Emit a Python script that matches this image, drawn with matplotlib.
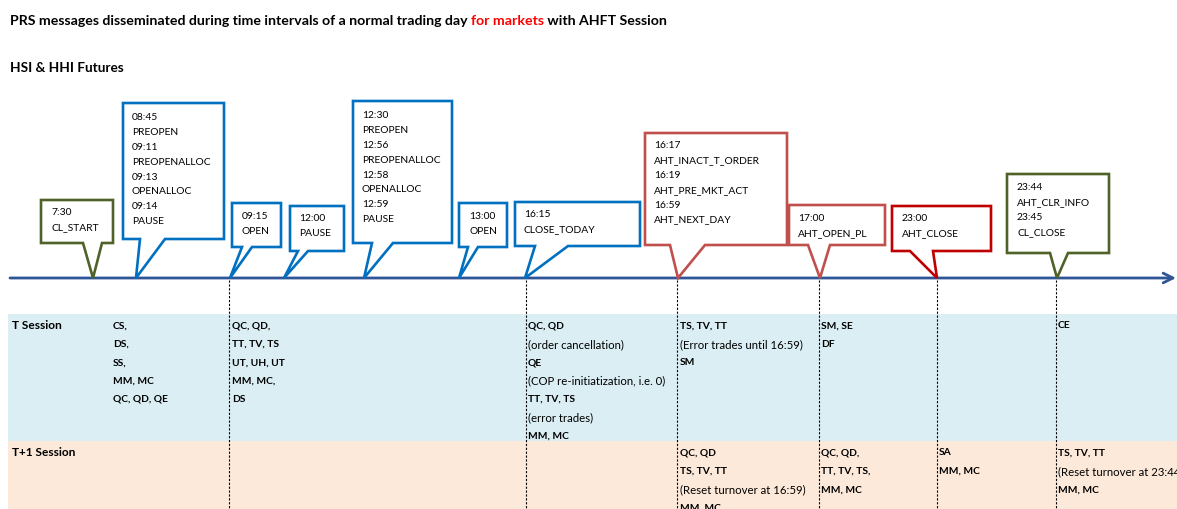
import matplotlib
matplotlib.use("Agg")
import matplotlib.pyplot as plt
from matplotlib.patches import Polygon, Rectangle

plt.rcParams['font.family'] = ['Lato', 'DejaVu Sans']

# ---------------- data (texts) ----------------
title_parts = ["PRS messages disseminated during time intervals of a normal trading day ",
               "for markets", " with AHFT Session"]
subtitle = "HSI & HHI Futures"

callout_texts = [
    ["7:30", "CL_START"],
    ["08:45", "PREOPEN", "09:11", "PREOPENALLOC", "09:13", "OPENALLOC", "09:14", "PAUSE"],
    ["09:15", "OPEN"],
    ["12:00", "PAUSE"],
    ["12:30", "PREOPEN", "12:56", "PREOPENALLOC", "12:58", "OPENALLOC", "12:59", "PAUSE"],
    ["13:00", "OPEN"],
    ["16:15", "CLOSE_TODAY"],
    ["16:17", "AHT_INACT_T_ORDER", "16:19", "AHT_PRE_MKT_ACT", "16:59", "AHT_NEXT_DAY"],
    ["17:00", "AHT_OPEN_PL"],
    ["23:00", "AHT_CLOSE"],
    ["23:44", "AHT_CLR_INFO", "23:45", "CL_CLOSE"],
]

row_labels = ["T Session", "T+1 Session"]

# each cell: list of (text, is_bold)
t_session_cols = [
    [("CS,", 1), ("DS,", 1), ("SS,", 1), ("MM, MC", 1), ("QC, QD, QE", 1)],
    [("QC, QD,", 1), ("TT, TV, TS", 1), ("UT, UH, UT", 1), ("MM, MC,", 1), ("DS", 1)],
    [("QC, QD", 1), ("(order cancellation)", 0), ("QE", 1),
     ("(COP re-initiatization, i.e. 0)", 0), ("TT, TV, TS", 1), ("(error trades)", 0), ("MM, MC", 1)],
    [("TS, TV, TT", 1), ("(Error trades until 16:59)", 0), ("SM", 1)],
    [("SM, SE", 1), ("DF", 1)],
    [],
    [("CE", 1)],
]
t1_session_cols = [
    [],
    [],
    [],
    [("QC, QD", 1), ("TS, TV, TT", 1), ("(Reset turnover at 16:59)", 0), ("MM, MC", 1)],
    [("QC, QD,", 1), ("TT, TV, TS,", 1), ("MM, MC", 1)],
    [("SA", 1), ("MM, MC", 1)],
    [("TS, TV, TT", 1), ("(Reset turnover at 23:44", 0), ("MM, MC", 1)],
]

# ---------------- layout (pixel geometry & styles) ----------------
W, H = 1177, 510
BLUE, RED1, RED2, GREEN = "#0070C0", "#C0504D", "#C00000", "#4F6228"
# (left, top, right, bottom, tail_base1, tail_base2, tip_x, tip_y, color)
callout_geom = [
    (41, 201, 113, 244, 83, 102, 93, 279, GREEN),
    (123, 104, 224, 240, 140, 165, 136, 279, BLUE),
    (232, 204, 281, 248, 242, 252, 230, 279, BLUE),
    (290, 207, 344, 252, 298, 308, 284, 279, BLUE),
    (353, 102, 452, 244, 372, 393, 364, 279, BLUE),
    (459, 204, 507, 248, 468, 478, 459, 279, BLUE),
    (515, 203, 640, 247, 535, 568, 525, 279, BLUE),
    (645, 134, 787, 246, 670, 705, 678, 279, RED1),
    (789, 206, 885, 246, 808, 830, 820, 279, RED1),
    (892, 207, 991, 252, 910, 933, 937, 279, RED2),
    (1007, 175, 1109, 254, 1050, 1068, 1057, 279, GREEN),
]
callout_text_x = [51, 132, 242, 299, 362, 469, 524, 654, 798, 902, 1017]
callout_text_y0 = [213, 118, 217, 219, 116, 217, 215, 146, 219, 219, 188]
callout_dy = 14.8

col_x = [113, 232, 528, 680, 821, 939, 1058]
divider_x = [229, 526, 677, 819, 937, 1056]

fig = plt.figure(figsize=(W / 100, H / 100), dpi=100)
ax = fig.add_axes([0, 0, 1, 1])
ax.set_xlim(0, W)
ax.set_ylim(H, 0)
ax.axis('off')

# title (multi-coloured) via chained annotations
fs_title = 10.2
t = ax.text(10, 21, title_parts[0], fontsize=fs_title, fontweight='bold',
            va='center', ha='left', color='black')
prev = t
for part, colr in zip(title_parts[1:], ['#FF0000', 'black']):
    prev = ax.annotate(part, xy=(1, 0), xycoords=prev, va='bottom', ha='left',
                       fontsize=fs_title, fontweight='bold', color=colr)
ax.text(10, 68, subtitle, fontsize=9.8, fontweight='bold', va='center', ha='left')

# table bands
ax.add_patch(Rectangle((8, 315), W - 8, 127, facecolor='#DAEEF3', edgecolor='none', zorder=0))
ax.add_patch(Rectangle((8, 442), W - 8, H - 442, facecolor='#FDE9D9', edgecolor='none', zorder=0))

# dotted dividers
for xd in divider_x:
    ax.plot([xd, xd], [281, H], color='black', lw=0.8, ls=(0, (2, 1.5)), zorder=1)

# timeline arrow
ax.annotate('', xy=(1176, 279), xytext=(10, 279),
            arrowprops=dict(arrowstyle='->,head_length=0.7,head_width=0.35',
                            color='#2F5597', lw=2.0, shrinkA=0, shrinkB=0), zorder=2)

# callouts
fs_call = 7.4
for (L, T, R, B, b1, b2, tx, ty, c), lines, xt, yt in zip(
        callout_geom, callout_texts, callout_text_x, callout_text_y0):
    poly = Polygon([(L, T), (R, T), (R, B), (b2, B), (tx, ty), (b1, B), (L, B)],
                   closed=True, facecolor='white', edgecolor=c, lw=1.9,
                   joinstyle='miter', zorder=3)
    ax.add_patch(poly)
    for i, s in enumerate(lines):
        ax.text(xt, yt + i * callout_dy, s, fontsize=fs_call, va='center', ha='left',
                color='black', zorder=4)

# table text
fs_bold, fs_reg = 7.4, 8.2
row_dy = 18.35
ax.text(12, 326, row_labels[0], fontsize=8.6, fontweight='bold', va='center', ha='left')
ax.text(12, 453, row_labels[1], fontsize=8.6, fontweight='bold', va='center', ha='left')
for y0, cols in ((326, t_session_cols), (453, t1_session_cols)):
    for cx, cell in zip(col_x, cols):
        for i, (s, b) in enumerate(cell):
            ax.text(cx, y0 + i * row_dy, s, fontsize=fs_bold if b else fs_reg,
                    fontweight='bold' if b else 'normal', va='center', ha='left')

fig.savefig('out.png', dpi=100)
